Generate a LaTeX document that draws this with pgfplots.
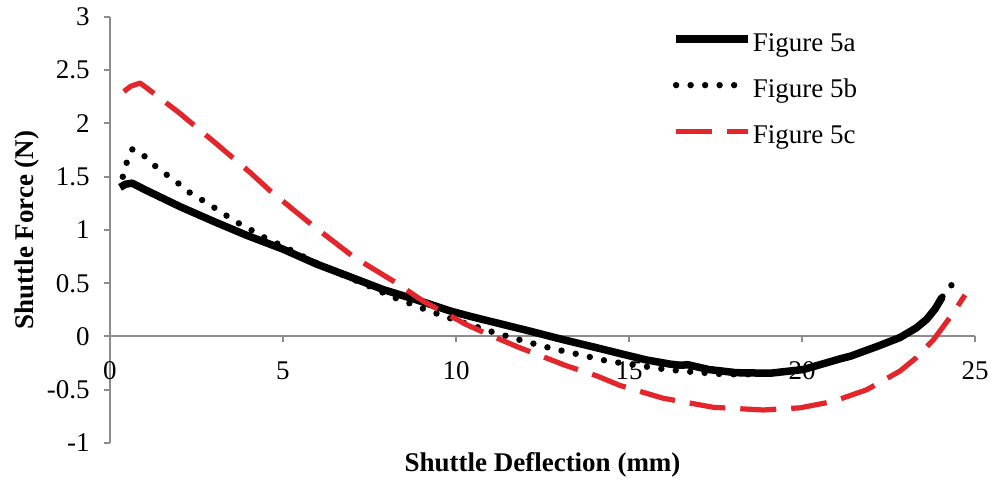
\documentclass[border=0pt]{standalone}
\usepackage{pgfplots}
\pgfplotsset{compat=1.18}
\usepackage{fontspec}
\setmainfont{Liberation Serif}
\definecolor{axgray}{RGB}{140,140,140}
\definecolor{redc}{RGB}{226,38,44}
\newcommand{\chartfont}{\fontsize{13.5}{16}\selectfont}

\pgfplotsset{
  fivea/.style={black, line width=3.75pt, line join=round},
  fiveb/.style={black, line width=3.2pt, line cap=round, dash pattern=on 0pt off 7.25pt},
  fivec/.style={redc, line width=2.6pt, line join=round, dash pattern=on 18pt off 7.5pt},
}

\begin{document}
\chartfont
\begin{tikzpicture}
\useasboundingbox (-55pt,-18.5pt) rectangle (446pt,221.5pt);
\begin{axis}[
  at={(0pt,0pt)}, anchor=south west,
  scale only axis, width=432.5pt, height=213pt,
  xmin=0, xmax=25, ymin=-1, ymax=3,
  axis x line*=middle, axis y line*=left,
  hide obscured x ticks=false, hide obscured y ticks=false,
  axis line style={axgray, line width=1pt},
  tick style={axgray, line width=1pt},
  major tick length=3pt, tick align=outside,
  xtick={0,5,10,15,20,25}, xticklabels={0,5,10,15,20,25},
  ytick={-1,-0.5,0,0.5,1,1.5,2,2.5,3},
  yticklabels={-1,-0.5,0,0.5,1,1.5,2,2.5,3},
  ticklabel style={font=\chartfont, black},
  xticklabel style={yshift=-5pt},
  yticklabel style={xshift=-2.5pt},
  xlabel={\textbf{Shuttle Deflection (mm)}},
  ylabel={\textbf{Shuttle Force (N)}},
  label style={font=\chartfont},
  xlabel style={at={(axis description cs:0.5,-0.068)}, anchor=base},
  ylabel style={at={(axis description cs:-0.0879,0.5)}, anchor=base},
  legend style={at={(axis description cs:0.6497,0.963)}, anchor=north west,
    draw=none, fill=none, inner sep=0pt, font=\chartfont,
    row sep=11pt, column sep=0.5pt,
    nodes={inner sep=0pt, text height=9pt, text depth=3pt},
    cells={anchor=west}},
  legend image code/.code={\draw[#1] (0pt,3pt) -- (36pt,3pt);},
  clip=false,
]
% Figure 5a
\addplot[fivea] coordinates {
(0.29,1.40) (0.45,1.43) (0.64,1.44) (1.0,1.38) (2.02,1.22) (3.0,1.08)
(3.95,0.95) (5.0,0.82) (5.97,0.68) (6.94,0.56) (7.9,0.44) (8.9,0.34)
(9.83,0.24) (10.4,0.19) (11.27,0.12) (12.14,0.05) (13.1,-0.03) (14.07,-0.106)
(14.74,-0.16) (15.5,-0.22) (16.2,-0.26) (16.5,-0.27) (16.7,-0.265) (16.9,-0.28)
(17.3,-0.31) (18.1,-0.34) (19.08,-0.345) (20.04,-0.31) (21.1,-0.21) (21.4,-0.185)
(22.2,-0.09) (22.83,-0.01) (23.3,0.08) (23.6,0.16) (23.85,0.26) (24.05,0.37)
}; \addlegendentry{Figure 5a}
% Figure 5b
\addplot[fiveb] coordinates {
(0.37,1.50) (0.48,1.63) (0.65,1.76) (0.94,1.71) (1.27,1.61) (1.59,1.53)
(1.93,1.45) (2.26,1.36) (2.62,1.29) (2.99,1.215) (3.34,1.14) (3.71,1.065)
(4.08,1.0) (4.43,0.935) (4.82,0.875) (5.2,0.815) (5.59,0.75) (5.97,0.69)
(6.5,0.61) (7.0,0.54) (7.51,0.47) (7.9,0.41) (8.29,0.356) (8.67,0.31)
(9.06,0.26) (9.49,0.21) (9.88,0.165) (10.5,0.10) (11.08,0.04) (11.51,0.0)
(11.93,-0.04) (12.33,-0.075) (12.74,-0.11) (13.15,-0.14) (13.57,-0.17) (13.97,-0.20)
(14.37,-0.23) (15.0,-0.26) (15.65,-0.29) (16.09,-0.31) (16.9,-0.335) (17.73,-0.355)
(18.55,-0.355) (19.08,-0.345) (20.04,-0.31) (21.1,-0.21) (22.2,-0.09) (22.83,-0.01)
(23.3,0.08) (23.6,0.16) (23.85,0.26) (24.05,0.37) (24.23,0.447) (24.52,0.56)
}; \addlegendentry{Figure 5b}
% Figure 5c
\addplot[fivec] coordinates {
(0.40,2.30) (0.6,2.35) (0.87,2.38) (1.2,2.30) (2.0,2.10) (3.0,1.83)
(4.05,1.54) (4.62,1.37) (5.83,1.05) (7.03,0.75) (8.29,0.50) (9.06,0.33)
(10.31,0.11) (11.0,0.01) (11.8,-0.10) (13.15,-0.27) (14.07,-0.37) (14.74,-0.46)
(15.99,-0.58) (17.44,-0.665) (18.88,-0.69) (19.94,-0.67) (20.9,-0.61) (21.87,-0.50)
(22.83,-0.325) (23.3,-0.20) (23.8,-0.03) (24.37,0.22) (24.71,0.39)
}; \addlegendentry{Figure 5c}
\end{axis}
\end{tikzpicture}
\end{document}
